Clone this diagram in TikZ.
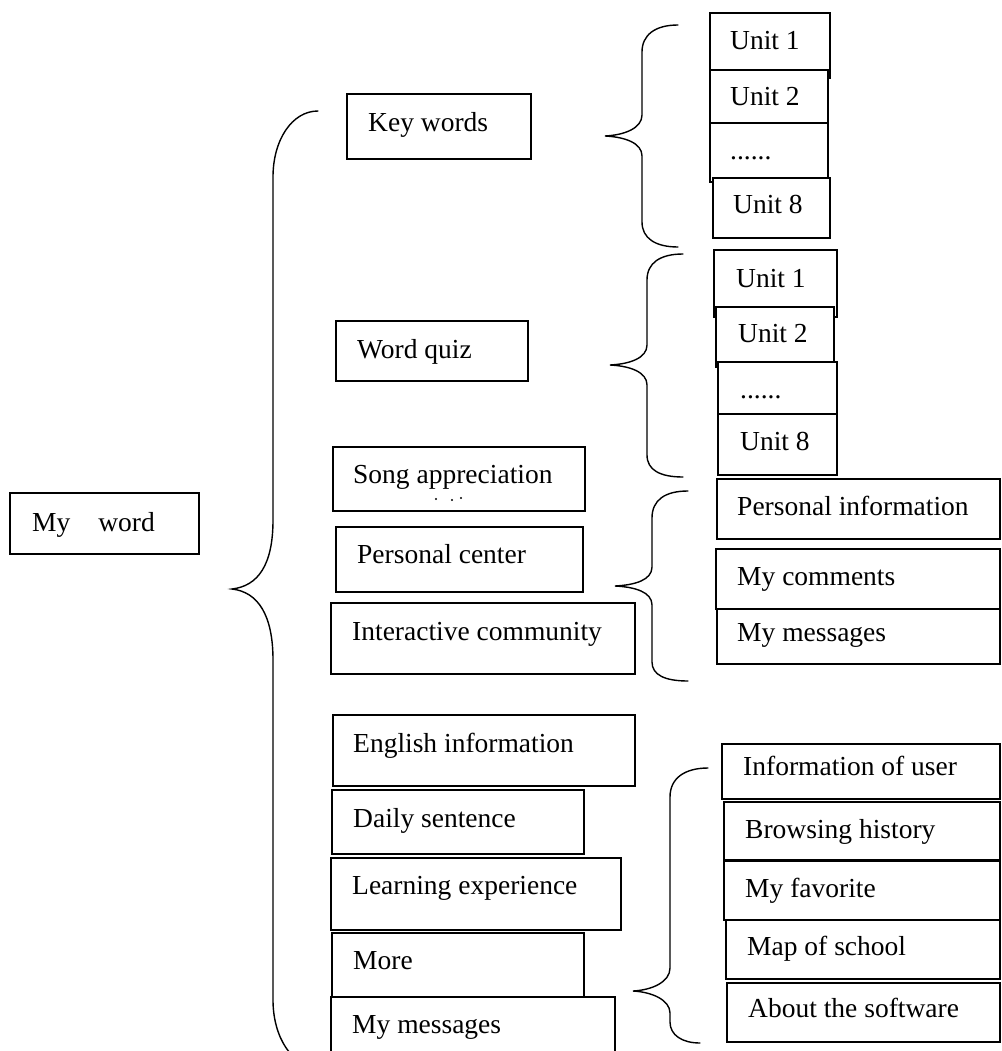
\documentclass[tikz,border=0pt]{standalone}
\usepackage{fontspec}
\setmainfont{Liberation Serif}
\tikzset{
  box/.style={draw, line width=1.6pt, fill=white, inner sep=0pt, outer sep=0pt, anchor=north west},
  lbl/.style={inner sep=0pt, anchor=base west, font=\fontsize{27.5pt}{30pt}\selectfont},
  brace/.style={line width=1.4pt, line cap=round},
  dotmark/.style={fill=black, draw=none},
}
% name, x1, y1, x2, y2, text x, text baseline y, text
\newcommand{\mybox}[8]{%
  \node[box, minimum width={#4pt-#2pt}, minimum height={#5pt-#3pt}] (#1) at (#2,#3) {};
  \node[lbl] (#1-t) at (#6,#7) {#8};
}
\begin{document}
\begin{tikzpicture}[x=1pt,y=-1pt]
\useasboundingbox (0,0) rectangle (1001,1051);
\clip (0,0) rectangle (1001,1051);
\fill[white] (0,0) rectangle (1001,1051);

% root
\mybox{root}{10}{493}{199}{554}{32}{531}{My\hspace{28pt}word}

% level 1
\mybox{kw}{347}{94}{531}{159}{368}{132}{Key words}
\mybox{wq}{336}{321}{528}{381}{357}{358}{Word quiz}
\mybox{song}{333}{447}{585}{511}{353}{483}{Song appreciation}
\fill[dotmark] (436,499) circle (1.2) (452,500) circle (1.2) (461,498) circle (1.2);
\mybox{pc}{336}{527}{583}{592}{357}{563}{Personal center}
\mybox{ic}{331}{603}{635}{674}{352}{640}{Interactive community}
\mybox{ei}{333}{715}{635}{786}{353}{752}{English information}
\mybox{ds}{332}{790}{584}{854}{353}{827}{Daily sentence}
\mybox{le}{331}{858}{621}{930}{352}{894}{Learning experience}
\mybox{more}{332}{933}{584}{997}{353}{969}{More}
\mybox{mm}{331}{997}{615}{1070}{352}{1033}{My messages}

% key words units
\mybox{ka}{710}{13}{830}{78}{730}{50}{Unit 1}
\mybox{kb}{710}{70}{828}{123}{730}{106}{Unit 2}
\mybox{kc}{710}{123}{828}{182}{730}{160}{......}
\mybox{kd}{713}{178}{830}{238}{733}{213}{Unit 8}

% word quiz units
\mybox{qa}{714}{250}{837}{317}{736}{287}{Unit 1}
\mybox{qb}{716}{307}{834}{367}{738}{342}{Unit 2}
\mybox{qc}{718}{362}{837}{414}{740}{398}{......}
\mybox{qd}{718}{414}{837}{475}{740}{450}{Unit 8}

% personal center items
\mybox{pa}{717}{479}{1000}{539}{737}{515}{Personal information}
\mybox{pb}{716}{549}{1000}{609}{737}{585}{My comments}
\mybox{pm}{717}{609}{1000}{664}{737}{641}{My messages}

% more items
\mybox{ma}{722}{744}{1000}{799}{743}{775}{Information of user}
\mybox{mb}{724}{802}{1000}{860}{745}{838}{Browsing history}
\mybox{mc}{724}{861}{1000}{920}{745}{897}{My favorite}
\mybox{md}{726}{920}{1000}{979}{747}{955}{Map of school}
\mybox{me}{727}{983}{1000}{1042}{748}{1017}{About the software}

% big brace
\draw[brace] (318,111) .. controls (292,111) and (273,140) .. (273,177)
  -- (273,520) .. controls (273,565) and (258,586) .. (232,589)
  .. controls (258,592) and (273,615) .. (273,660)
  -- (273,1000) .. controls (273,1037) and (292,1067) .. (318,1067);

% key words brace
\draw[brace] (678,25) .. controls (655,25) and (642,35) .. (642,52)
  -- (642,115) .. controls (642,128) and (625,135) .. (605,136)
  .. controls (625,137) and (642,143) .. (642,156)
  -- (642,222) .. controls (642,238) and (655,247) .. (678,247);

% word quiz brace
\draw[brace] (683,254) .. controls (660,254) and (647,263) .. (647,280)
  -- (647,345) .. controls (647,358) and (630,364) .. (610,365)
  .. controls (630,366) and (647,372) .. (647,385)
  -- (647,455) .. controls (647,470) and (660,477) .. (683,477);

% personal center brace
\draw[brace] (688,491) .. controls (665,491) and (652,500) .. (652,518)
  -- (652,567) .. controls (652,580) and (635,585) .. (615,586)
  .. controls (635,587) and (652,592) .. (652,605)
  -- (652,662) .. controls (652,675) and (665,681) .. (688,681);

% more brace
\draw[brace] (708,768) .. controls (685,768) and (670,778) .. (670,797)
  -- (670,968) .. controls (670,982) and (652,990) .. (633,991)
  .. controls (652,992) and (670,1000) .. (670,1013)
  -- (670,1022) .. controls (670,1035) and (682,1043) .. (700,1043);
\end{tikzpicture}
\end{document}
